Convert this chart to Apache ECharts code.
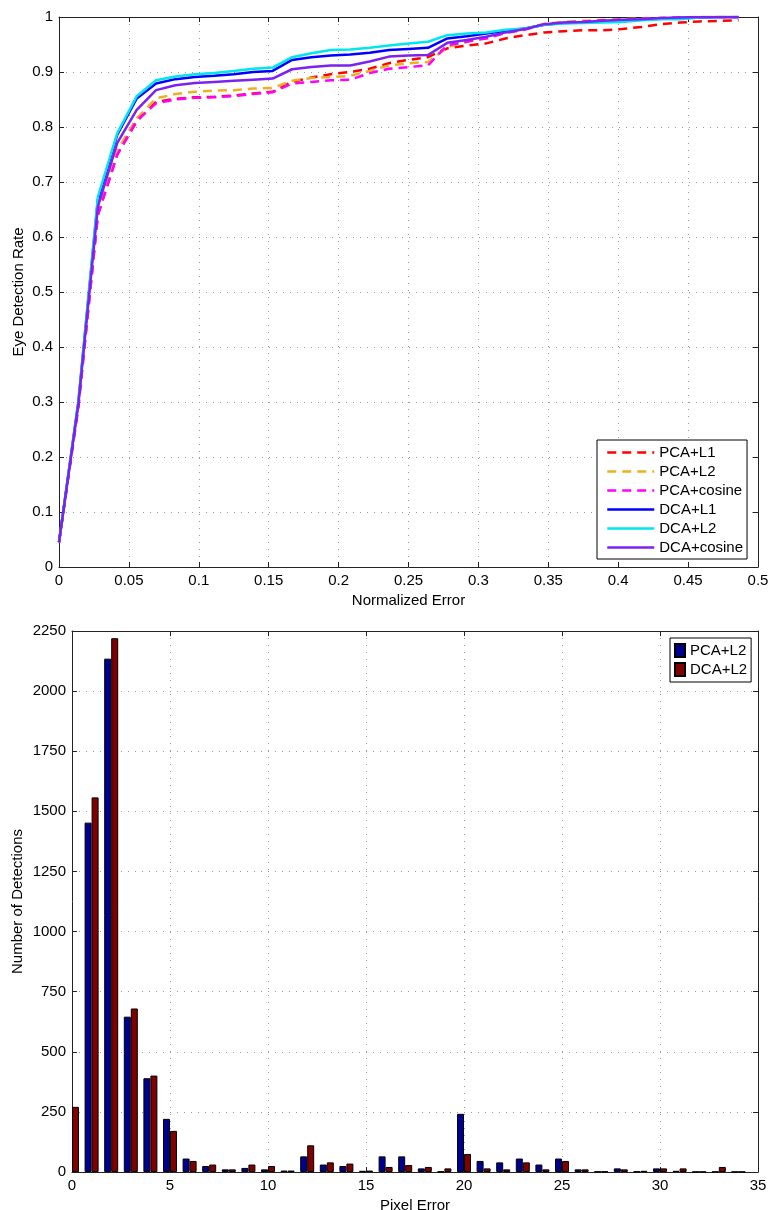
<!DOCTYPE html>
<html>
<head>
<meta charset="utf-8">
<script src="https://cdn.jsdelivr.net/npm/echarts@6/dist/echarts.min.js"></script>
<style>
  body { margin: 0; background: #fff; }
  #main { width: 771px; height: 1210px; }
</style>
</head>
<body>
<div id="main"></div>
<script>
// normalized error (pixel error / eye distance)
var normErr = [0, 0.0139, 0.0278, 0.0417, 0.0556, 0.0694, 0.0833, 0.0972, 0.1111, 0.125,
  0.1389, 0.1528, 0.1667, 0.1806, 0.1944, 0.2083, 0.2222, 0.2361, 0.25, 0.2639,
  0.2778, 0.2917, 0.3056, 0.3194, 0.3333, 0.3472, 0.3611, 0.375, 0.3889, 0.4028,
  0.4167, 0.4306, 0.4444, 0.4583, 0.4722, 0.4861]

var pcaL1 = [0.045, 0.295, 0.640, 0.750, 0.810, 0.846, 0.851, 0.854, 0.855, 0.857,
  0.861, 0.864, 0.882, 0.890, 0.896, 0.900, 0.906, 0.916, 0.922, 0.927,
  0.943, 0.948, 0.952, 0.961, 0.967, 0.972, 0.974, 0.976, 0.976, 0.978,
  0.982, 0.987, 0.990, 0.992, 0.993, 0.994]
var pcaL2 = [0.045, 0.295, 0.645, 0.758, 0.816, 0.852, 0.860, 0.864, 0.866, 0.867,
  0.870, 0.871, 0.884, 0.889, 0.891, 0.893, 0.902, 0.912, 0.916, 0.918,
  0.945, 0.955, 0.962, 0.972, 0.978, 0.988, 0.991, 0.993, 0.995, 0.996,
  0.997, 0.998, 0.999, 1, 1, 1]
var pcaCos = [0.045, 0.290, 0.640, 0.750, 0.812, 0.843, 0.850, 0.853, 0.854, 0.856,
  0.860, 0.863, 0.879, 0.882, 0.885, 0.886, 0.898, 0.906, 0.909, 0.912,
  0.949, 0.955, 0.961, 0.971, 0.977, 0.987, 0.990, 0.992, 0.994, 0.995,
  0.997, 0.998, 0.999, 1, 1, 1]
var dcaL1 = [0.045, 0.300, 0.668, 0.786, 0.852, 0.879, 0.887, 0.891, 0.893, 0.896,
  0.900, 0.902, 0.922, 0.927, 0.930, 0.932, 0.935, 0.940, 0.942, 0.944,
  0.961, 0.965, 0.970, 0.975, 0.979, 0.986, 0.989, 0.990, 0.992, 0.993,
  0.995, 0.997, 0.998, 0.999, 1, 1]
var dcaL2 = [0.045, 0.303, 0.673, 0.789, 0.856, 0.885, 0.892, 0.896, 0.898, 0.902,
  0.906, 0.908, 0.927, 0.934, 0.940, 0.941, 0.944, 0.948, 0.952, 0.955,
  0.967, 0.970, 0.972, 0.977, 0.979, 0.986, 0.988, 0.989, 0.990, 0.991,
  0.994, 0.996, 0.996, 0.999, 1, 1]
var dcaCos = [0.045, 0.298, 0.655, 0.771, 0.831, 0.867, 0.876, 0.880, 0.882, 0.884,
  0.886, 0.888, 0.905, 0.909, 0.912, 0.912, 0.919, 0.928, 0.930, 0.931,
  0.953, 0.958, 0.964, 0.972, 0.978, 0.987, 0.990, 0.991, 0.993, 0.995,
  0.996, 0.998, 0.999, 1, 1, 1]

// histogram of pixel error (PCA bar at 0 sits left of the axis, not visible)
var pixErr = [0, 1, 2, 3, 4, 5, 6, 7, 8, 9, 10, 11, 12, 13, 14, 15, 16, 17, 18, 19,
  20, 21, 22, 23, 24, 25, 26, 27, 28, 29, 30, 31, 32, 33, 34]
var pcaHist = [null, 1453, 2135, 646, 390, 221, 56, 25, 11, 17, 11, 6, 65, 31, 25, 5, 65, 65, 15, 2,
  242, 46, 40, 56, 31, 56, 11, 2, 15, 2, 15, 5, 1, 1, 1]
var dcaHist = [271, 1558, 2220, 680, 401, 171, 46, 31, 11, 31, 25, 6, 111, 40, 35, 6, 21, 29, 21, 15,
  75, 15, 11, 40, 11, 46, 11, 2, 11, 5, 15, 15, 1, 21, 1]

var FONT = 'Liberation Sans, Arial, Helvetica, sans-serif'
var FS = 15

function pairs(xs, ys) {
  var out = []
  for (var i = 0; i < ys.length; i++) {
    if (ys[i] == null) continue
    out.push([xs[i], ys[i]])
  }
  return out
}

function lineSeries(name, data, color, dashed) {
  return {
    name: name,
    type: 'line',
    xAxisIndex: 0,
    yAxisIndex: 0,
    data: pairs(normErr, data),
    showSymbol: false,
    symbol: 'none',
    lineStyle: { color: color, width: 2.5, type: dashed ? [9, 6] : 'solid' },
    itemStyle: { color: color },
    z: 3
  }
}

function barSeries(name, data, color) {
  return {
    name: name,
    type: 'bar',
    xAxisIndex: 2,
    yAxisIndex: 2,
    data: pairs(pixErr, data),
    barWidth: 7,
    barGap: '0%',
    itemStyle: { color: color, borderColor: '#000', borderWidth: 1 }
  }
}

var grid = [
  { left: 59, top: 17, width: 699, height: 550, outerBoundsMode: 'none', containLabel: false },
  { left: 72, top: 631, width: 686, height: 541, outerBoundsMode: 'none', containLabel: false }
]

var axLine = { show: true, onZero: false, lineStyle: { color: '#222', width: 1 } }
var tick = { show: true, inside: true, length: 5, lineStyle: { color: '#222' } }
var lbl = { color: '#000', fontSize: FS, fontFamily: FONT, margin: 6,
  formatter: function (v) { return String(+v.toFixed(4)) } }
var dotted = { show: true, lineStyle: { color: '#999', type: [1, 6], width: 1 } }
var nameTxt = { color: '#000', fontSize: FS, fontFamily: FONT }

var xAxis = [
  { type: 'value', gridIndex: 0, min: 0, max: 0.5, interval: 0.05, position: 'bottom',
    name: 'Normalized Error', nameLocation: 'middle', nameGap: 26, nameTextStyle: nameTxt,
    axisLine: axLine, axisTick: tick, axisLabel: lbl, splitLine: dotted },
  { type: 'value', gridIndex: 0, min: 0, max: 0.5, interval: 0.05, position: 'top',
    axisLine: axLine, axisTick: tick, axisLabel: { show: false }, splitLine: { show: false } },
  { type: 'value', gridIndex: 1, min: 0, max: 35, interval: 5, position: 'bottom',
    name: 'Pixel Error', nameLocation: 'middle', nameGap: 26, nameTextStyle: nameTxt,
    axisLine: axLine, axisTick: tick, axisLabel: lbl, splitLine: dotted },
  { type: 'value', gridIndex: 1, min: 0, max: 35, interval: 5, position: 'top',
    axisLine: axLine, axisTick: tick, axisLabel: { show: false }, splitLine: { show: false } }
]

var yAxis = [
  { type: 'value', gridIndex: 0, min: 0, max: 1, interval: 0.1, position: 'left',
    name: 'Eye Detection Rate', nameLocation: 'middle', nameGap: 33, nameMoveOverlap: false,
    nameTextStyle: nameTxt,
    axisLine: axLine, axisTick: tick, axisLabel: lbl, splitLine: dotted },
  { type: 'value', gridIndex: 0, min: 0, max: 1, interval: 0.1, position: 'right',
    axisLine: axLine, axisTick: tick, axisLabel: { show: false }, splitLine: { show: false } },
  { type: 'value', gridIndex: 1, min: 0, max: 2250, interval: 250, position: 'left',
    name: 'Number of Detections', nameLocation: 'middle', nameGap: 47, nameMoveOverlap: false,
    nameTextStyle: nameTxt,
    axisLine: axLine, axisTick: tick, axisLabel: lbl, splitLine: dotted },
  { type: 'value', gridIndex: 1, min: 0, max: 2250, interval: 250, position: 'right',
    axisLine: axLine, axisTick: tick, axisLabel: { show: false }, splitLine: { show: false } }
]

var legend = [
  {
    data: ['PCA+L1', 'PCA+L2', 'PCA+cosine', 'DCA+L1', 'DCA+L2', 'DCA+cosine'],
    orient: 'vertical', left: 597, top: 440,
    itemWidth: 47, itemHeight: 14, itemGap: 4,
    padding: [5, 4, 4, 9],
    itemStyle: { color: 'rgba(0,0,0,0)', borderColor: 'rgba(0,0,0,0)', opacity: 0 },
    lineStyle: { width: 2.5 },
    backgroundColor: '#fff', borderColor: '#000', borderWidth: 1, borderRadius: 0,
    textStyle: { color: '#000', fontSize: FS, fontFamily: FONT },
    selectedMode: false
  },
  {
    data: ['hist PCA+L2', 'hist DCA+L2'],
    orient: 'vertical', left: 670, top: 638,
    itemWidth: 10, itemHeight: 13, itemGap: 4,
    padding: [5, 4, 5, 4],
    icon: 'rect',
    formatter: function (n) { return n.replace('hist ', '') },
    backgroundColor: '#fff', borderColor: '#000', borderWidth: 1, borderRadius: 0,
    textStyle: { color: '#000', fontSize: FS, fontFamily: FONT },
    selectedMode: false
  }
]

var chart = echarts.init(document.getElementById('main'), null, { renderer: 'canvas' })
chart.setOption({
  animation: false,
  backgroundColor: '#fff',
  textStyle: { fontFamily: FONT },
  grid: grid,
  xAxis: xAxis,
  yAxis: yAxis,
  legend: legend,
  series: [
    lineSeries('PCA+L1', pcaL1, '#ff0000', true),
    lineSeries('PCA+L2', pcaL2, '#edb120', true),
    lineSeries('PCA+cosine', pcaCos, '#ff00ff', true),
    lineSeries('DCA+L1', dcaL1, '#0000ff', false),
    lineSeries('DCA+L2', dcaL2, '#00e5ee', false),
    lineSeries('DCA+cosine', dcaCos, '#7b22f0', false),
    barSeries('hist PCA+L2', pcaHist, '#000090'),
    barSeries('hist DCA+L2', dcaHist, '#800000')
  ]
})
</script>
</body>
</html>
